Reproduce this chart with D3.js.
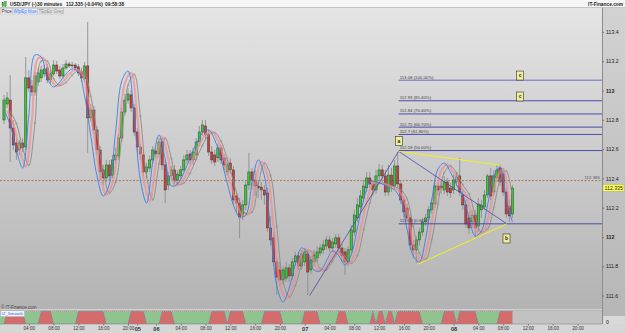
<!DOCTYPE html>
<html>
<head>
<meta charset="utf-8">
<script src="https://cdn.jsdelivr.net/npm/d3@7"></script>
<style>
body { margin: 0; background: #fff; }
svg { display: block; font-family: "Liberation Sans", Arial, sans-serif; }
</style>
</head>
<body>
<svg id="chart" width="625" height="333"></svg>
<script>
// USD/JPY 30 minutes, bars from day 04 00:00 to day 08 09:30 (bar index = time slot)
var opens = [112.799,112.908,112.935,112.744,112.642,112.594,112.642,112.615,113.086,113.031,
112.990,113.058,113.086,113.113,113.154,113.072,113.113,113.174,113.140,113.099,
113.154,113.181,113.168,113.174,113.161,113.127,113.079,113.168,112.813,112.867,
112.731,112.594,112.458,112.403,112.492,112.423,112.526,112.553,112.676,112.853,
112.935,112.970,112.881,112.717,112.615,112.560,112.444,112.471,112.526,112.587,
112.567,112.649,112.492,112.355,112.417,112.458,112.389,112.417,112.458,112.526,
112.567,112.526,112.560,112.649,112.717,112.758,112.697,112.580,112.560,112.540,
112.608,112.540,112.444,112.505,112.458,112.280,112.232,112.150,112.219,112.355,
112.444,112.389,112.348,112.341,112.321,112.301,112.062,111.994,111.830,111.775,
111.707,111.720,111.789,111.734,111.830,111.871,111.802,111.830,111.884,111.775,
111.830,111.857,111.891,111.912,111.939,111.980,111.925,111.953,111.994,111.925,
111.898,111.830,111.912,112.034,112.130,112.205,112.266,112.335,112.403,112.362,
112.321,112.417,112.458,112.417,112.307,112.423,112.348,112.485,112.362,112.253,
112.198,112.130,111.946,111.912,111.980,112.034,112.103,112.130,112.185,112.225,
112.348,112.348,112.321,112.376,112.335,112.321,112.376,112.417,112.287,112.219,
112.130,112.103,112.150,112.075,112.185,112.205,112.287,112.417,112.307,112.403,
112.471,112.430,112.307,112.212,112.157];
var highs = [112.970,112.990,113.106,112.799,112.676,112.662,112.676,113.229,113.140,113.072,
113.127,113.154,113.168,113.174,113.181,113.140,113.208,113.202,113.168,113.181,
113.208,113.195,113.195,113.188,113.181,113.154,113.195,113.468,112.908,112.894,
112.758,112.621,112.492,112.526,112.526,112.560,112.608,112.703,112.881,112.976,
113.017,113.004,112.908,112.744,112.635,112.594,112.505,112.553,112.621,112.608,
112.676,112.676,112.526,112.444,112.485,112.492,112.458,112.485,112.560,112.594,
112.594,112.608,112.676,112.758,112.799,112.799,112.731,112.621,112.594,112.635,
112.628,112.567,112.526,112.540,112.485,112.307,112.266,112.253,112.389,112.574,
112.471,112.458,112.389,112.376,112.355,112.335,112.144,112.034,111.857,111.830,
111.802,111.830,111.816,111.857,111.898,111.898,111.912,111.925,111.912,111.871,
111.912,111.939,111.953,111.980,112.007,112.007,111.994,112.021,112.021,111.953,
111.925,111.939,112.082,112.185,112.266,112.321,112.389,112.444,112.444,112.389,
112.458,112.499,112.492,112.458,112.492,112.471,112.526,112.580,112.389,112.280,
112.225,112.157,111.980,112.007,112.062,112.130,112.157,112.212,112.266,112.389,
112.376,112.389,112.417,112.403,112.369,112.423,112.444,112.540,112.321,112.253,
112.171,112.185,112.185,112.266,112.253,112.321,112.430,112.471,112.458,112.492,
112.499,112.471,112.335,112.253,112.355];
var lows = [112.772,112.881,112.512,112.594,112.526,112.560,112.580,112.594,112.990,112.963,
112.963,113.031,113.058,113.092,113.051,113.045,113.099,113.113,113.079,113.079,
113.140,113.154,113.154,113.140,113.099,113.058,113.058,112.574,112.785,112.703,
112.560,112.389,112.355,112.376,112.389,112.403,112.499,112.526,112.649,112.826,
112.908,112.853,112.690,112.580,112.526,112.417,112.403,112.444,112.499,112.540,
112.540,112.458,112.232,112.321,112.389,112.362,112.362,112.389,112.444,112.499,
112.499,112.492,112.526,112.621,112.690,112.662,112.553,112.499,112.485,112.512,
112.499,112.458,112.417,112.430,112.219,112.171,111.994,112.116,112.185,112.321,
112.321,112.280,112.266,112.253,112.219,112.034,111.939,111.802,111.604,111.666,
111.679,111.693,111.693,111.707,111.802,111.775,111.775,111.802,111.604,111.748,
111.802,111.830,111.871,111.884,111.912,111.898,111.898,111.925,111.884,111.830,
111.741,111.802,111.884,112.007,112.103,112.171,112.239,112.307,112.335,112.280,
112.294,112.389,112.376,112.280,112.280,112.307,112.321,112.335,112.225,112.130,
112.103,111.912,111.857,111.823,111.939,112.007,112.075,112.103,112.157,112.198,
112.280,112.294,112.294,112.280,112.266,112.294,112.348,112.280,112.185,112.062,
112.021,112.062,112.000,112.034,112.130,112.185,112.266,112.253,112.280,112.376,
112.348,112.280,112.130,112.103,112.130];
var closes = [112.935,112.949,112.744,112.628,112.580,112.642,112.608,113.086,113.017,112.990,
113.099,113.120,113.140,113.147,113.072,113.113,113.174,113.133,113.099,113.154,
113.181,113.168,113.174,113.154,113.120,113.086,113.168,112.813,112.867,112.731,
112.594,112.444,112.403,112.492,112.417,112.526,112.560,112.676,112.853,112.935,
112.976,112.881,112.717,112.615,112.567,112.444,112.478,112.526,112.594,112.567,
112.649,112.492,112.321,112.417,112.458,112.389,112.430,112.458,112.526,112.560,
112.526,112.580,112.649,112.717,112.765,112.697,112.580,112.526,112.512,112.608,
112.526,112.492,112.492,112.458,112.253,112.232,112.137,112.219,112.355,112.444,
112.389,112.348,112.335,112.321,112.287,112.062,111.980,111.830,111.727,111.707,
111.775,111.789,111.734,111.830,111.871,111.802,111.884,111.898,111.761,111.843,
111.877,111.898,111.925,111.946,111.980,111.925,111.966,111.994,111.925,111.871,
111.830,111.912,112.048,112.150,112.219,112.280,112.348,112.403,112.362,112.321,
112.417,112.458,112.417,112.307,112.423,112.348,112.485,112.362,112.253,112.171,
112.130,111.946,111.912,111.980,112.034,112.103,112.130,112.185,112.232,112.348,
112.321,112.335,112.376,112.307,112.301,112.389,112.410,112.307,112.219,112.089,
112.062,112.150,112.062,112.225,112.219,112.287,112.417,112.280,112.417,112.458,
112.376,112.307,112.157,112.144,112.335];

// smoothing lines, sampled every second bar
var blueStart = 0, pinkStart = 1, greyStart = 2, lineStep = 2;
var blueLine = [112.867,112.765,112.594,112.471,112.826,113.243,113.229,113.079,113.024,113.058,
113.113,113.147,113.127,112.963,112.690,112.417,112.280,112.362,112.717,113.065,
113.133,112.819,112.389,112.232,112.512,112.697,112.533,112.348,112.362,112.437,
112.540,112.635,112.710,112.731,112.662,112.533,112.369,112.219,112.137,112.150,
112.369,112.526,112.417,112.048,111.666,111.557,111.652,111.816,111.925,111.891,
111.775,111.768,111.836,111.905,111.871,111.809,111.877,112.062,112.253,112.376,
112.376,112.362,112.341,112.321,112.253,112.055,111.871,111.830,111.987,112.253,
112.464,112.505,112.444,112.355,112.287,112.130,112.007,112.041,112.219,112.417,
112.478,112.253,112.103];
var pinkLine = [112.860,112.770,112.600,112.480,112.800,113.220,113.215,113.080,113.030,113.058,
113.110,113.140,113.120,112.960,112.700,112.430,112.290,112.370,112.700,113.050,
113.120,112.820,112.400,112.245,112.505,112.685,112.535,112.355,112.365,112.435,
112.535,112.630,112.700,112.720,112.660,112.535,112.375,112.230,112.150,112.160,
112.365,112.515,112.420,112.060,111.685,111.575,111.660,111.815,111.915,111.888,
111.780,111.772,111.835,111.900,111.870,111.815,111.875,112.055,112.240,112.365,
112.372,112.360,112.342,112.322,112.258,112.065,111.880,111.838,111.985,112.240,
112.450,112.495,112.440,112.355,112.290,112.140,112.020,112.048,112.210,112.400,
112.465,112.200];
var greyLine = [112.855,112.775,112.610,112.490,112.780,113.200,113.200,113.080,113.035,113.055,
113.105,113.135,113.115,112.960,112.710,112.445,112.300,112.375,112.690,113.035,
113.110,112.825,112.410,112.255,112.500,112.675,112.535,112.360,112.368,112.435,
112.530,112.625,112.695,112.712,112.655,112.535,112.380,112.240,112.160,112.170,
112.360,112.505,112.420,112.070,111.700,111.590,111.668,111.815,111.908,111.885,
111.785,111.776,111.835,111.895,111.868,111.820,111.873,112.050,112.230,112.355,
112.368,112.358,112.342,112.323,112.262,112.075,111.890,111.845,111.983,112.228,
112.438,112.485,112.436,112.355,112.293,112.150,112.032,112.055,112.202,112.385,
112.452,112.268];

// IZ_Smooth: bar ranges where the indicator is red
var redSpans = [[1,6],[12,15],[24,32],[41,45],[51,54],[67,71],[73,77],[84,89],[97,101],[108,110],
[119,119],[121,122],[124,125],[127,134],[142,145],[147,152],[160,164]];

// Fibonacci levels from point a
var fibStartBar = 127.3;
var fibPrices = [113.07, 112.93, 112.84, 112.75, 112.70, 112.59, 112.09];
var fibLabels = ["113.08 (100.00%)", "112.93 (85.40%)", "112.84 (76.40%)", "112.75 (66.70%)", "112.7 (61.80%)", "112.59 (50.00%)", "112.09 (0.00%)"];

// pattern lines [bar, price]
var abLine = [[98.6, 111.60], [127.3, 112.585], [162.2, 112.09]];
var yellowTop = [[127.3, 112.585], [160.3, 112.49]];
var yellowBottom = [[133.5, 111.814], [162.2, 112.09]];
var patternTags = ["a", "c", "c", "b"];
var tagBars = [127.4, 166.5, 166.5, 162.1];
var tagPrices = [112.655, 113.102, 112.959, 111.99];

var lastTrade = 112.385, lastPrice = 112.335;

var priceTicks = [111.6, 111.8, 112, 112.2, 112.4, 112.6, 112.8, 113, 113.2, 113.4];
var priceTickLabels = ["111.6", "111.8", "112", "112.2", "112.4", "112.6", "112.8", "113", "113.2", "113.4"];
var timeTicks = [8,16,24,32,40,43,49,57,65,73,81,89,97,105,113,121,129,137,145,153,161,169,177,185];
var timeLabels = ["04:00","08:00","12:00","16:00","20:00","05","06","04:00","08:00","12:00","16:00","20:00","07",
"04:00","08:00","12:00","16:00","20:00","08","04:00","08:00","12:00","16:00","20:00"];

var svg = d3.select("#chart");
var W = 625, H = 333, PR = 602, PT = 8, PB = 309;

var x = d3.scaleLinear().domain([0, 193]).range([4, 602.3]);
var y = d3.scaleLinear().domain([111.6, 113.4]).range([295.6, 31.9]);
var py = d3.scaleLinear().domain([0, 1]).range([324, 311.5]);

var defs = svg.append("defs");
var g1 = defs.append("linearGradient").attr("id", "bgMain").attr("x1", 0).attr("y1", 0).attr("x2", 0).attr("y2", 1);
g1.append("stop").attr("offset", "0%").attr("stop-color", "#e4e4e4");
g1.append("stop").attr("offset", "100%").attr("stop-color", "#b3b3b3");
var g2 = defs.append("linearGradient").attr("id", "bgAxis").attr("x1", 0).attr("y1", 0).attr("x2", 0).attr("y2", 1);
g2.append("stop").attr("offset", "0%").attr("stop-color", "#d2d2d2");
g2.append("stop").attr("offset", "100%").attr("stop-color", "#b6b6b6");
defs.append("clipPath").attr("id", "plotClip").append("rect")
  .attr("x", 0).attr("y", PT).attr("width", PR).attr("height", PB - PT);

// backgrounds
svg.append("rect").attr("x", 0).attr("y", 0).attr("width", W).attr("height", H).attr("fill", "#d9d9d9");
svg.append("rect").attr("x", 0).attr("y", PT).attr("width", PR).attr("height", PB - PT).attr("fill", "url(#bgMain)");
svg.append("rect").attr("x", PR).attr("y", PT).attr("width", W - PR).attr("height", 316 - PT).attr("fill", "url(#bgAxis)");
svg.append("line").attr("x1", PR + 0.5).attr("x2", PR + 0.5).attr("y1", PT).attr("y2", 324).attr("stroke", "#8c8c8c");

// title bar
svg.append("rect").attr("x", 0).attr("y", 0).attr("width", W).attr("height", PT).attr("fill", "#f6f6f6");
svg.append("line").attr("x1", 0).attr("x2", W).attr("y1", PT - 0.5).attr("y2", PT - 0.5).attr("stroke", "#c4c4c4");
svg.append("rect").attr("x", 2).attr("y", 2.5).attr("width", 1.6).attr("height", 4).attr("fill", "#2fd02f").attr("stroke", "#333").attr("stroke-width", 0.3);
svg.append("rect").attr("x", 4.6).attr("y", 1.5).attr("width", 1.6).attr("height", 5).attr("fill", "#2fd02f").attr("stroke", "#333").attr("stroke-width", 0.3);
var title = svg.append("g").attr("font-size", 4.8).attr("font-weight", "bold").attr("fill", "#222");
title.append("text").attr("x", 10).attr("y", 6).text("USD/JPY (-)");
title.append("text").attr("x", 37).attr("y", 6).text("30 minutes");
title.append("text").attr("x", 66).attr("y", 6).text("112.335 (-0.04%)");
title.append("text").attr("x", 105).attr("y", 6).text("09:58:38");
title.append("text").attr("x", 623).attr("y", 6).attr("text-anchor", "end").text("IT-Finance.com");

// tabs
var tabs = [["Price", 0.5, 12, "#222", "#f4f4f4"], ["WlpEp blue", 12.5, 25, "#2f6fff", "#e8eef8"], ["TEpEp Grey", 37.5, 26, "#888", "#e6e6e6"]];
tabs.forEach(function (t) {
  svg.append("rect").attr("x", t[1]).attr("y", 8.5).attr("width", t[2]).attr("height", 5.5)
    .attr("fill", t[4]).attr("stroke", "#b0b0b0").attr("stroke-width", 0.4);
  svg.append("text").attr("x", t[1] + 1).attr("y", 12.9).attr("font-size", 4.5).attr("fill", t[3]).text(t[0]);
});

var plot = svg.append("g").attr("clip-path", "url(#plotClip)");

// last trade dashed line
plot.append("line").attr("x1", 0).attr("x2", PR).attr("y1", y(lastTrade)).attr("y2", y(lastTrade))
  .attr("stroke", "#a0653a").attr("stroke-width", 0.8).attr("stroke-dasharray", "2,1.5");
plot.append("text").attr("x", 600).attr("y", y(lastTrade) - 1.5).attr("text-anchor", "end")
  .attr("font-size", 4.4).attr("fill", "#555").text(lastTrade.toFixed(3));

// candles
var bars = opens.map(function (o, i) { return { i: i, o: o, h: highs[i], l: lows[i], c: closes[i] }; });
var bw = 2.2;
plot.selectAll("line.wick").data(bars).enter().append("line").attr("class", "wick")
  .attr("x1", function (d) { return x(d.i); }).attr("x2", function (d) { return x(d.i); })
  .attr("y1", function (d) { return y(d.h); }).attr("y2", function (d) { return y(d.l); })
  .attr("stroke", "#868686").attr("stroke-width", 0.8);
plot.selectAll("rect.body").data(bars).enter().append("rect").attr("class", "body")
  .attr("x", function (d) { return x(d.i) - bw / 2; })
  .attr("y", function (d) { return y(Math.max(d.o, d.c)); })
  .attr("width", bw)
  .attr("height", function (d) { return Math.max(0.8, Math.abs(y(d.o) - y(d.c))); })
  .attr("fill", function (d) { return d.c >= d.o ? "#2fd02f" : "#d23c3c"; })
  .attr("stroke", "#3a3a3a").attr("stroke-width", 0.5);

// smoothing lines
var lineGen = d3.line().x(function (d) { return x(d[0]); }).y(function (d) { return y(d[1]); })
  .curve(d3.curveCatmullRom.alpha(0.5));
function pts(arr, start) { return arr.map(function (v, k) { return [start + k * lineStep, v]; }); }
var greyPts = pts(greyLine, greyStart);
plot.append("path").attr("d", lineGen(greyPts)).attr("fill", "none").attr("stroke", "#8a8a8a").attr("stroke-width", 0.9);
plot.selectAll("circle.gm").data(greyPts).enter().append("circle").attr("class", "gm")
  .attr("cx", function (d) { return x(d[0]); }).attr("cy", function (d) { return y(d[1]); })
  .attr("r", 0.9).attr("fill", "none").attr("stroke", "#8a8a8a").attr("stroke-width", 0.4);
plot.append("path").attr("d", lineGen(pts(pinkLine, pinkStart))).attr("fill", "none")
  .attr("stroke", "#f08a8a").attr("stroke-opacity", 0.65).attr("stroke-width", 2.2);
plot.append("path").attr("d", lineGen(pts(blueLine, blueStart))).attr("fill", "none")
  .attr("stroke", "#3a7ee8").attr("stroke-width", 0.9);

// fibonacci levels
fibPrices.forEach(function (p, k) {
  var top = k === 0;
  plot.append("line").attr("x1", x(fibStartBar)).attr("x2", PR).attr("y1", y(p)).attr("y2", y(p))
    .attr("stroke", top ? "#8f8fd0" : "#3d3da8").attr("stroke-width", top ? 1.6 : 0.9);
  plot.append("text").attr("x", x(fibStartBar) + 1).attr("y", y(p) - 1.5)
    .attr("font-size", 4.3).attr("fill", "#444").text(fibLabels[k]);
});

// pattern lines
var pLine = d3.line().x(function (d) { return x(d[0]); }).y(function (d) { return y(d[1]); });
plot.append("path").attr("d", pLine(abLine)).attr("fill", "none").attr("stroke", "#4a4aa8").attr("stroke-width", 0.8);
plot.append("path").attr("d", pLine(yellowTop)).attr("fill", "none").attr("stroke", "#f2f21a").attr("stroke-width", 1);
plot.append("path").attr("d", pLine(yellowBottom)).attr("fill", "none").attr("stroke", "#f2f21a").attr("stroke-width", 1);

patternTags.forEach(function (t, k) {
  var cx = x(tagBars[k]), cy = y(tagPrices[k]);
  plot.append("rect").attr("x", cx - 3.5).attr("y", cy - 4.5).attr("width", 7).attr("height", 9)
    .attr("fill", "#f3ee9c").attr("stroke", "#333").attr("stroke-width", 0.6);
  plot.append("text").attr("x", cx).attr("y", cy + 1.8).attr("text-anchor", "middle")
    .attr("font-size", 5).attr("font-weight", "bold").attr("fill", "#222").text(t);
});

// right price axis
var yAxis = d3.axisRight(y).tickValues(priceTicks).tickSize(2).tickPadding(2)
  .tickFormat(function (d, i) { return priceTickLabels[i]; });
var ya = svg.append("g").attr("transform", "translate(" + PR + ",0)").call(yAxis);
ya.select(".domain").remove();
ya.selectAll("line").attr("stroke", "#777");
ya.selectAll("text").attr("font-size", 5.2).attr("fill", "#222")
  .attr("font-family", "Liberation Sans, Arial, sans-serif")
  .attr("font-weight", function (d, i) { return priceTickLabels[i].indexOf(".") < 0 ? "bold" : "normal"; });

// current price box
svg.append("rect").attr("x", PR + 1).attr("y", y(lastPrice) - 3.5).attr("width", 21).attr("height", 7)
  .attr("fill", "#ffff55").attr("stroke", "#999").attr("stroke-width", 0.4);
svg.append("text").attr("x", PR + 2.5).attr("y", y(lastPrice) + 1.8).attr("font-size", 5.2).attr("fill", "#222").text(lastPrice.toFixed(3));

// copyright
svg.append("text").attr("x", 1).attr("y", 308.5).attr("font-size", 4.5).attr("fill", "#444").text("\u00a9 IT-Finance.com");

// IZ_Smooth panel
svg.append("rect").attr("x", 0).attr("y", 310).attr("width", PR).attr("height", 14).attr("fill", "#c2c2c2");
svg.append("line").attr("x1", 0).attr("x2", PR).attr("y1", 310.25).attr("y2", 310.25).attr("stroke", "#9a9a9a").attr("stroke-width", 0.5);
var state = d3.range(opens.length).map(function (i) {
  return redSpans.some(function (s) { return i >= s[0] && i <= s[1]; }) ? 1 : 0;
});
svg.append("rect").attr("x", 0).attr("y", py(1)).attr("width", x(opens.length - 1)).attr("height", py(0) - py(1)).attr("fill", "#8fc48f");
var area = d3.area().x(function (d, i) { return x(i); }).y0(py(0)).y1(function (d) { return py(d); });
svg.append("path").attr("d", area(state)).attr("fill", "#d46c6c");
var edge = d3.line().x(function (d, i) { return x(i); }).y(function (d) { return py(d); });
svg.append("path").attr("d", edge(state)).attr("fill", "none").attr("stroke", "#4f6fd6")
  .attr("stroke-width", 0.6).attr("stroke-dasharray", "1,1");
svg.append("line").attr("x1", 0).attr("x2", x(opens.length - 1)).attr("y1", py(1)).attr("y2", py(1))
  .attr("stroke", "#d05a5a").attr("stroke-width", 0.4).attr("stroke-dasharray", "1,1");
svg.append("rect").attr("x", 0.5).attr("y", 310.8).attr("width", 24).attr("height", 5.8)
  .attr("fill", "#f2f2f2").attr("stroke", "#a8a8a8").attr("stroke-width", 0.4);
svg.append("text").attr("x", 1.5).attr("y", 315.3).attr("font-size", 4.4).attr("fill", "#2f6fff").text("IZ_Smooth");
svg.append("text").attr("x", PR + 4).attr("y", 323.5).attr("font-size", 5.2).attr("fill", "#222").text("0");

// time axis
svg.append("rect").attr("x", 0).attr("y", 324).attr("width", W).attr("height", 9).attr("fill", "#d6d6d6");
svg.append("line").attr("x1", 0).attr("x2", PR).attr("y1", 324).attr("y2", 324).attr("stroke", "#8c8c8c").attr("stroke-width", 0.6);
var xAxis = d3.axisBottom(x).tickValues(timeTicks).tickSize(1.5).tickPadding(1.2)
  .tickFormat(function (d, i) { return timeLabels[i]; });
var xa = svg.append("g").attr("transform", "translate(0,324)").call(xAxis);
xa.select(".domain").remove();
xa.selectAll("line").attr("stroke", "#777");
xa.selectAll("text").attr("fill", "#333").attr("font-family", "Liberation Sans, Arial, sans-serif")
  .attr("font-size", function (d, i) { return timeLabels[i].length === 2 ? 5.6 : 4.6; })
  .attr("font-weight", function (d, i) { return timeLabels[i].length === 2 ? "bold" : "normal"; });
</script>
</body>
</html>
